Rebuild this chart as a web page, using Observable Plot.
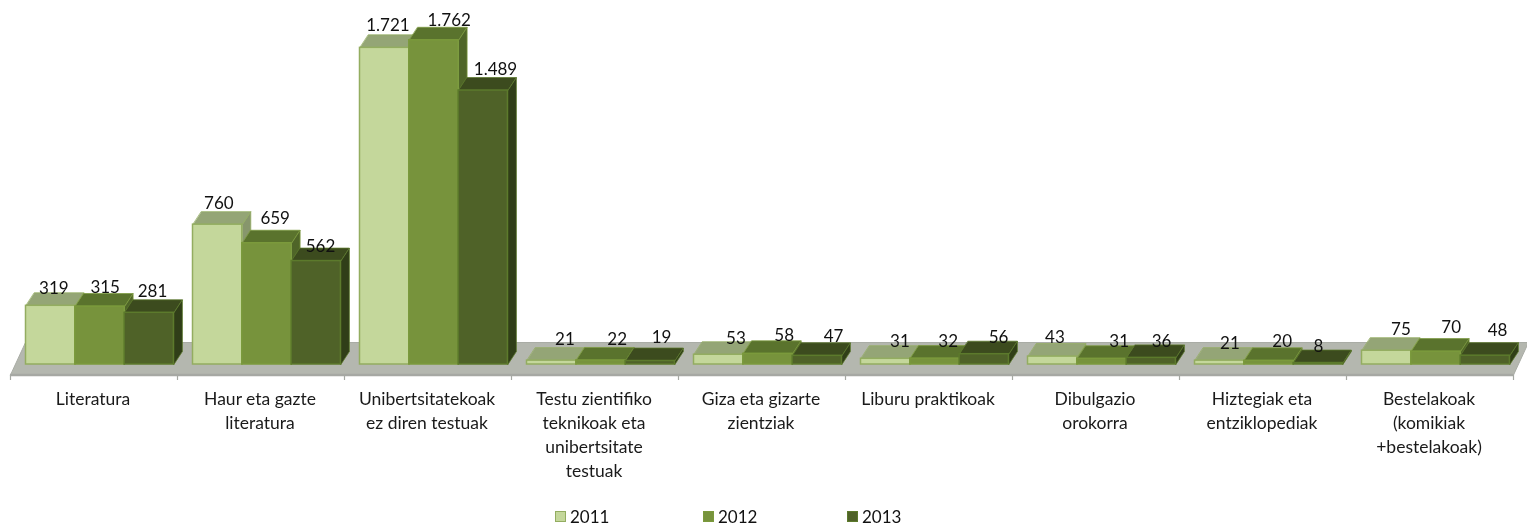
<!DOCTYPE html>
<html>
<head>
<meta charset="utf-8">
<script src="https://cdn.jsdelivr.net/npm/d3@7"></script>
<script src="https://cdn.jsdelivr.net/npm/@observablehq/plot@0.6"></script>
<style>
html,body{margin:0;padding:0;background:#fff;overflow:hidden}
#chart svg{display:block;filter:blur(0.4px)}
#legend{display:flex;margin-top:2px;padding-left:555px;height:19px;font:17px/19px Lato,sans-serif;color:#111;filter:blur(0.4px)}
#legend .item{display:flex;align-items:center}
#legend i{display:inline-block;width:11px;height:11px;margin-right:4px;box-sizing:border-box;border:1px solid}
</style>
</head>
<body>
<div id="chart"></div>
<div id="legend"></div>
<script>
const categories = [
  "Literatura",
  "Haur eta gazte\nliteratura",
  "Unibertsitatekoak\nez diren testuak",
  "Testu zientifiko\nteknikoak eta\nunibertsitate\ntestuak",
  "Giza eta gizarte\nzientziak",
  "Liburu praktikoak",
  "Dibulgazio\norokorra",
  "Hiztegiak eta\nentziklopediak",
  "Bestelakoak\n(komikiak\n+bestelakoak)"
];
const years = ["2011", "2012", "2013"];
const values2011 = [319, 760, 1721, 21, 53, 31, 43, 21, 75];
const values2012 = [315, 659, 1762, 22, 58, 32, 31, 20, 70];
const values2013 = [281, 562, 1489, 19, 47, 56, 36, 8, 48];

// Label nudges (in pixels) relative to each bar's default label anchor
const nudgeX = [[-1,1,-1],[-3,4,0],[-1,11,8],[9,12,7],[13,12,12],[10,9,10],[-2,13,6],[6,9,-4],[10,11,8]];
const nudgeY = [[3,1,-1],[-1,-5,5],[-2,0,-1],[-1,-1,-3],[4,2,1],[3,3,3],[1,3,4],[3,1,4],[-1,-4,-5]];

const faceColors = [
  {front:"#c4d79b", stroke:"#93ad60", top:"#94a576", side:"#87966c"},
  {front:"#77933c", stroke:"#7b9a3c", top:"#5a732d", side:"#4f6528"},
  {front:"#4f6228", stroke:"#5c7a2c", top:"#3c4b1e", side:"#303e18"}
];

const pxPerUnit = 0.184, baseY = 364, H = 505;
const pxPerCat = (1513 - 10) / 9;
const dxu = px => px / pxPerCat;       // pixels to category units
const dyu = px => px / pxPerUnit;      // pixels to value units

const barW = dxu(49.3), groupPad = dxu(15.5), depthX = dxu(8.5), depthY = dyu(13);
const series = [values2011, values2012, values2013];

const bars = categories.flatMap((c, i) => series.map((s, k) => {
  const x1 = i + groupPad + k * barW;
  return {i, k, v: s[i], x1, x2: x1 + barW, c: faceColors[k]};
}));

const poly = (pts, color) => pts.map(([x, y]) => ({x, y, color}));

const floorBackY = dyu(22), floorFrontY = -dyu(10.5), floorDX = dxu(15);
const floor = poly([[0, floorFrontY],[floorDX, floorBackY],[9 + floorDX, floorBackY],[9, floorFrontY]], "#b4b7af");

const barMarks = bars.flatMap(b => {
  const top = poly([[b.x1,b.v],[b.x2,b.v],[b.x2+depthX,b.v+depthY],[b.x1+depthX,b.v+depthY]], b.c.top);
  const side = poly([[b.x2,0],[b.x2+depthX,depthY],[b.x2+depthX,b.v+depthY],[b.x2,b.v]], b.c.side);
  const face = d => ({x:"x", y:"y", fill:"color", stroke:b.c.stroke, strokeOpacity:0.75, strokeWidth:1, curve:"linear-closed"});
  return [
    Plot.line(top, face()),
    Plot.line(side, face()),
    Plot.rect([b], {x1:"x1", x2:"x2", y1:0, y2:"v", fill:b.c.front, stroke:b.c.stroke, strokeWidth:1.5})
  ];
});

const labelData = bars.map(b => ({
  x: (b.x1 + b.x2) / 2 + depthX / 2 + dxu(nudgeX[b.i][b.k]),
  y: b.v + dyu(20 - nudgeY[b.i][b.k]),
  t: b.v.toLocaleString("de-DE")
}));

const plot = Plot.plot({
  width: 1527, height: H,
  marginTop: 0, marginRight: 14, marginLeft: 10, marginBottom: H - baseY,
  x: {domain: [0, 9], range: [10, 1513], axis: null},
  y: {domain: [0, baseY / pxPerUnit], range: [baseY, 0], axis: null},
  style: {background: "#fff", fontFamily: "Lato, sans-serif"},
  marks: [
    Plot.line(floor, {x:"x", y:"y", fill:"color", stroke:"#a9aca5", strokeWidth:1, curve:"linear-closed"}),
    Plot.ruleY([floorFrontY], {x1:0, x2:9, stroke:"#a6a8a3", strokeWidth:2.5}),
    Plot.ruleX(d3.range(10), {y1:floorFrontY, y2:-dyu(16), stroke:"#a6a8a3", strokeWidth:1.2}),
    ...barMarks,
    Plot.text(categories, {
      x:(d,i)=>i+0.5, dx:-1, y:-dyu(24), text:d=>d, lineAnchor:"top", lineHeight:1.36,
      fontSize:17.5, fill:"#1a1a1a"
    }),
    Plot.text(labelData, {x:"x", y:"y", text:"t", fontSize:17, fill:"#111"})
  ]
});
document.getElementById("chart").appendChild(plot);

const legend = d3.select("#legend");
const legendW = [148, 144, 80];
years.forEach((y, k) => {
  const it = legend.append("div").attr("class","item").style("width", legendW[k]+"px");
  it.append("i").style("background", faceColors[k].front).style("border-color", faceColors[k].stroke);
  it.append("span").text(y);
});
</script>
</body>
</html>
